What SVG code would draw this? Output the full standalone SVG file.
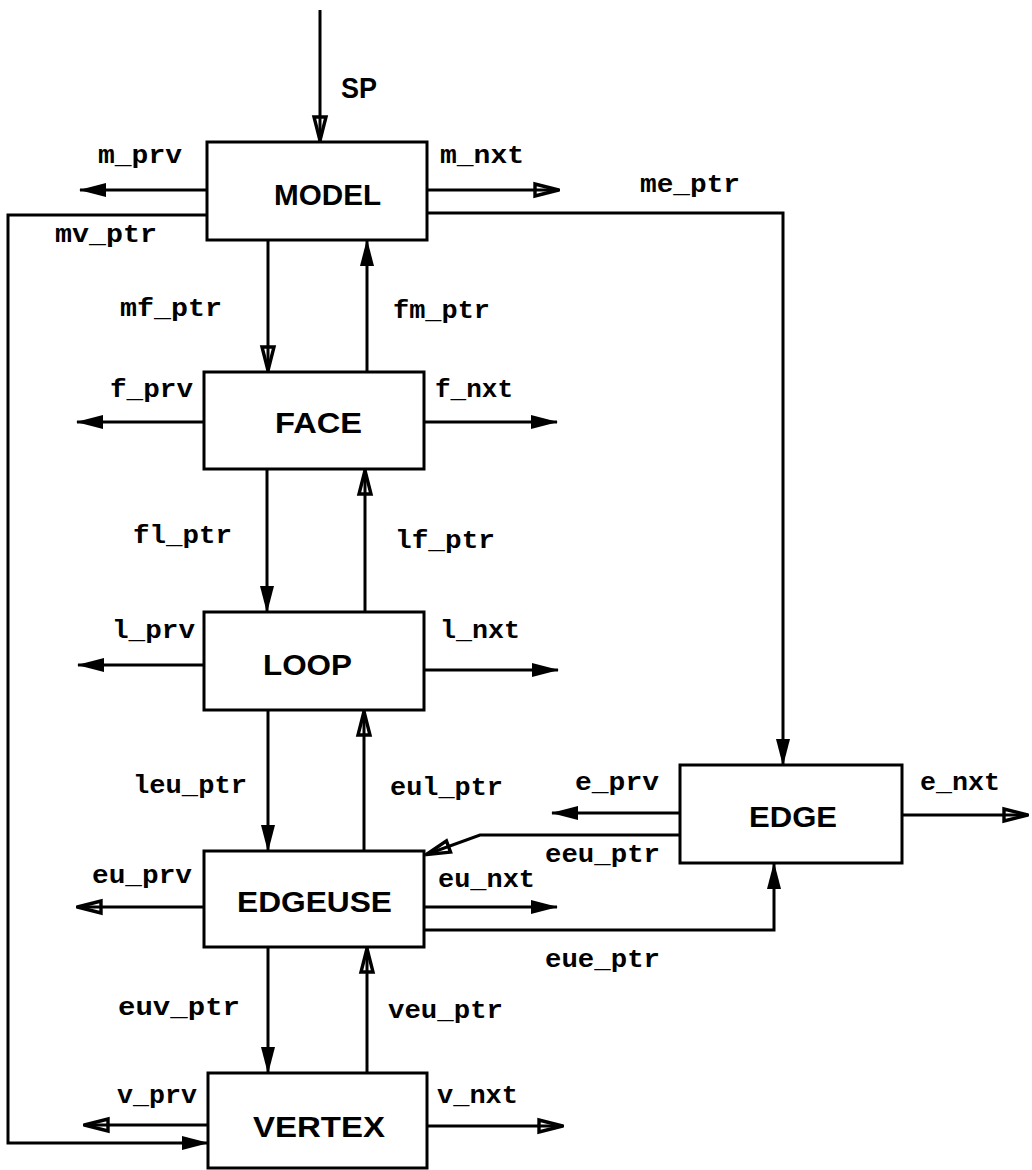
<svg xmlns="http://www.w3.org/2000/svg" width="1032" height="1170" viewBox="0 0 1032 1170">
<style>
.box{fill:#fff;stroke:#000;stroke-width:3}
.ttl{font-family:"Liberation Sans",Arial,sans-serif;font-weight:bold;font-size:29px;fill:#000}
.lbl{font-family:"Liberation Mono","Courier New",monospace;font-weight:bold;font-size:25px;fill:#000}
.c{fill:none;stroke:#000;stroke-width:3}
.f{marker-end:url(#af)}
.o{marker-end:url(#ao)}
</style>
<defs>
<marker id="af" markerUnits="userSpaceOnUse" viewBox="-30 -9 32 18" markerWidth="32" markerHeight="18" refX="0" refY="0" orient="auto" style="overflow:visible">
<path d="M1,0 L-26,-7 L-26,7 Z" fill="#000"/>
</marker>
<marker id="ao" markerUnits="userSpaceOnUse" viewBox="-30 -9 32 18" markerWidth="32" markerHeight="18" refX="0" refY="0" orient="auto" style="overflow:visible">
<path d="M-1.5,0 L-25,-6 L-25,6 Z" fill="none" stroke="#000" stroke-width="3.4" stroke-linejoin="miter"/>
</marker>
</defs>
<rect width="1032" height="1170" fill="#fff"/>

<g id="connectors">
<line class="c o" x1="320" y1="10" x2="320" y2="142"/>
<line class="c f" x1="207" y1="190" x2="80" y2="190"/>
<line class="c o" x1="427" y1="190" x2="560" y2="190"/>
<path class="c f" d="M207,215 H8 V1143 H208"/>
<path class="c f" d="M427,213 H783 V765"/>
<line class="c o" x1="268" y1="240" x2="268" y2="372"/>
<line class="c f" x1="367" y1="372" x2="367" y2="240"/>
<line class="c f" x1="204" y1="422" x2="77" y2="422"/>
<line class="c f" x1="424" y1="422" x2="557" y2="422"/>
<line class="c f" x1="267" y1="469" x2="267" y2="612"/>
<line class="c o" x1="365" y1="612" x2="365" y2="469"/>
<line class="c f" x1="204" y1="665" x2="78" y2="665"/>
<line class="c f" x1="424" y1="670" x2="558" y2="670"/>
<line class="c f" x1="268" y1="710" x2="268" y2="851"/>
<line class="c o" x1="364" y1="851" x2="364" y2="710"/>
<line class="c f" x1="680" y1="813" x2="552" y2="813"/>
<line class="c o" x1="902" y1="815" x2="1029" y2="815"/>
<path class="c o" d="M680,835 H480 L425,855"/>
<line class="c o" x1="204" y1="907" x2="76" y2="907"/>
<line class="c f" x1="424" y1="907" x2="557" y2="907"/>
<path class="c f" d="M424,930 H774 V863"/>
<line class="c f" x1="268" y1="947" x2="268" y2="1073"/>
<line class="c o" x1="367" y1="1073" x2="367" y2="947"/>
<line class="c o" x1="208" y1="1125" x2="83" y2="1125"/>
<line class="c o" x1="427" y1="1126" x2="564" y2="1126"/>
</g>

<g id="sp"><text class="ttl" x="341" y="98" textLength="36" lengthAdjust="spacingAndGlyphs">SP</text></g>

<g id="model">
<rect class="box" x="207" y="142" width="220" height="98"/>
<text class="ttl" x="274" y="205" textLength="107" lengthAdjust="spacingAndGlyphs">MODEL</text>
</g>
<g id="face">
<rect class="box" x="204" y="372" width="220" height="97"/>
<text class="ttl" x="275" y="433" textLength="87" lengthAdjust="spacingAndGlyphs">FACE</text>
</g>
<g id="loop">
<rect class="box" x="204" y="612" width="220" height="98"/>
<text class="ttl" x="263" y="675" textLength="89" lengthAdjust="spacingAndGlyphs">LOOP</text>
</g>
<g id="edgeuse">
<rect class="box" x="204" y="851" width="220" height="96"/>
<text class="ttl" x="237" y="912" textLength="155" lengthAdjust="spacingAndGlyphs">EDGEUSE</text>
</g>
<g id="vertex">
<rect class="box" x="208" y="1073" width="219" height="95"/>
<text class="ttl" x="253" y="1137" textLength="132" lengthAdjust="spacingAndGlyphs">VERTEX</text>
</g>
<g id="edge">
<rect class="box" x="680" y="765" width="222" height="98"/>
<text class="ttl" x="749" y="827" textLength="88" lengthAdjust="spacingAndGlyphs">EDGE</text>
</g>

<g id="labels">
<text class="lbl" x="98" y="163" textLength="84" lengthAdjust="spacingAndGlyphs">m_prv</text>
<text class="lbl" x="440" y="163" textLength="84" lengthAdjust="spacingAndGlyphs">m_nxt</text>
<text class="lbl" x="640" y="192" textLength="100" lengthAdjust="spacingAndGlyphs">me_ptr</text>
<text class="lbl" x="55" y="242" textLength="102" lengthAdjust="spacingAndGlyphs">mv_ptr</text>
<text class="lbl" x="120" y="316" textLength="102" lengthAdjust="spacingAndGlyphs">mf_ptr</text>
<text class="lbl" x="393" y="318" textLength="97" lengthAdjust="spacingAndGlyphs">fm_ptr</text>
<text class="lbl" x="110" y="397" textLength="83" lengthAdjust="spacingAndGlyphs">f_prv</text>
<text class="lbl" x="435" y="397" textLength="78" lengthAdjust="spacingAndGlyphs">f_nxt</text>
<text class="lbl" x="133" y="543" textLength="99" lengthAdjust="spacingAndGlyphs">fl_ptr</text>
<text class="lbl" x="395" y="548" textLength="100" lengthAdjust="spacingAndGlyphs">lf_ptr</text>
<text class="lbl" x="112" y="638" textLength="83" lengthAdjust="spacingAndGlyphs">l_prv</text>
<text class="lbl" x="440" y="638" textLength="80" lengthAdjust="spacingAndGlyphs">l_nxt</text>
<text class="lbl" x="133" y="793" textLength="114" lengthAdjust="spacingAndGlyphs">leu_ptr</text>
<text class="lbl" x="390" y="795" textLength="113" lengthAdjust="spacingAndGlyphs">eul_ptr</text>
<text class="lbl" x="575" y="790" textLength="84" lengthAdjust="spacingAndGlyphs">e_prv</text>
<text class="lbl" x="920" y="790" textLength="80" lengthAdjust="spacingAndGlyphs">e_nxt</text>
<text class="lbl" x="545" y="862" textLength="115" lengthAdjust="spacingAndGlyphs">eeu_ptr</text>
<text class="lbl" x="92" y="883" textLength="100" lengthAdjust="spacingAndGlyphs">eu_prv</text>
<text class="lbl" x="438" y="887" textLength="97" lengthAdjust="spacingAndGlyphs">eu_nxt</text>
<text class="lbl" x="545" y="967" textLength="115" lengthAdjust="spacingAndGlyphs">eue_ptr</text>
<text class="lbl" x="118" y="1015" textLength="122" lengthAdjust="spacingAndGlyphs">euv_ptr</text>
<text class="lbl" x="388" y="1018" textLength="115" lengthAdjust="spacingAndGlyphs">veu_ptr</text>
<text class="lbl" x="117" y="1103" textLength="80" lengthAdjust="spacingAndGlyphs">v_prv</text>
<text class="lbl" x="437" y="1103" textLength="81" lengthAdjust="spacingAndGlyphs">v_nxt</text>
</g>
</svg>
